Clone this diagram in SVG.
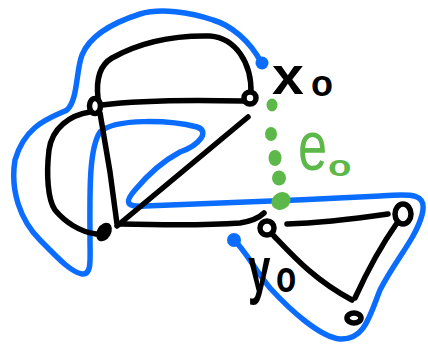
<svg xmlns="http://www.w3.org/2000/svg" width="428" height="344" viewBox="0 0 428 344">
<style>
.e{fill:none;stroke:#000;stroke-width:5.5;stroke-linecap:round;stroke-linejoin:round}
.b{fill:none;stroke:#0a6dff;stroke-width:5.5;stroke-linecap:round;stroke-linejoin:round}
.n{fill:#fff;stroke:#000;stroke-width:5.5}
.g{fill:#5cb848}
.t{font-family:"Liberation Sans",Arial,sans-serif;fill:#000}
.tg{font-family:"Liberation Sans",Arial,sans-serif;fill:#5cb848}
</style>
<rect width="428" height="344" fill="#fff"/>
<g id="loop">
<path class="b" d="M262,64 C250,40 230,25 213,20 C190,12 160,8 140,14 C115,22 90,35 82,55 C76,70 78,100 67,110 C50,118 25,125 15,160 C10,190 20,220 40,240 C55,255 70,272 82,274 C92,275 90,260 90,240 C90,200 88,150 100,132 C115,118 170,120 197,127 C210,131 200,145 180,152 C165,160 150,172 135,190 C122,205 130,207 145,206 C200,204 300,200 380,196 C410,194 428,192 422,215 C415,240 395,260 380,290 C370,315 365,340 340,339 C320,337 290,310 270,288 C255,270 245,250 234,240"/>
<circle cx="262" cy="63" r="6.5" fill="#0a6dff"/>
<circle cx="234" cy="240" r="7" fill="#0a6dff"/>
</g>
<g id="connectors">
<path class="e" d="M98,98 C96,80 100,65 112,58 C135,45 165,35 210,36 C235,38 252,62 251,94"/>
<path class="e" d="M102,105 C140,100 200,100 244,101"/>
<path class="e" d="M90,112 C70,115 52,128 49,150 C46,175 48,200 55,210 C65,222 80,232 96,234"/>
<path class="e" d="M100,113 L110,172 L117,224"/>
<path class="e" d="M117,226 L248,117"/>
<path class="e" d="M120,224 C160,225 200,226 240,223 C252,221 259,218 264,213"/>
<path class="e" d="M287,224 C320,223 360,218 388,214"/>
<path class="e" d="M397,223 C385,240 370,265 355,298"/>
<path class="e" d="M274,236 C295,258 315,280 352,300"/>
</g>
<g id="e0">
<ellipse class="g" cx="272" cy="105" rx="5.5" ry="6.5"/>
<ellipse class="g" cx="271" cy="134" rx="6" ry="7"/>
<ellipse class="g" cx="275" cy="158" rx="6.5" ry="8"/>
<ellipse class="g" cx="279" cy="178" rx="7" ry="7.5"/>
<ellipse class="g" cx="281" cy="201" rx="10" ry="8.5" transform="rotate(-30 281 201)"/>
<text class="tg" transform="translate(298,170) scale(0.75,1)" font-size="70">e</text>
<text class="tg" transform="translate(328,176) scale(1.2,0.95)" font-size="32" font-weight="bold">o</text>
</g>
<g id="nA"><ellipse class="n" cx="95" cy="106" rx="5.5" ry="7.5"/></g>
<g id="nB"><ellipse class="n" cx="250" cy="98" rx="6" ry="6"/></g>
<g id="nC"><ellipse cx="104" cy="232" rx="7" ry="10" transform="rotate(30 104 232)" fill="#000"/></g>
<g id="nD"><circle class="n" cx="267" cy="228" r="7"/></g>
<g id="nE"><ellipse class="n" cx="403" cy="214" rx="8" ry="10"/></g>
<g id="nF"><ellipse class="n" cx="354" cy="318" rx="7" ry="5"/></g>
<g id="x0">
<text class="t" transform="translate(272,94) scale(1.1,1)" font-size="52" font-weight="bold">x</text>
<text class="t" x="311" y="96" font-size="36" font-weight="bold">o</text>
</g>
<g id="y0">
<text class="t" transform="translate(248,292) scale(0.62,1)" font-size="65" font-weight="bold">y</text>
<text class="t" transform="translate(276,292) scale(0.75,1)" font-size="44" font-weight="bold">o</text>
</g>
</svg>
